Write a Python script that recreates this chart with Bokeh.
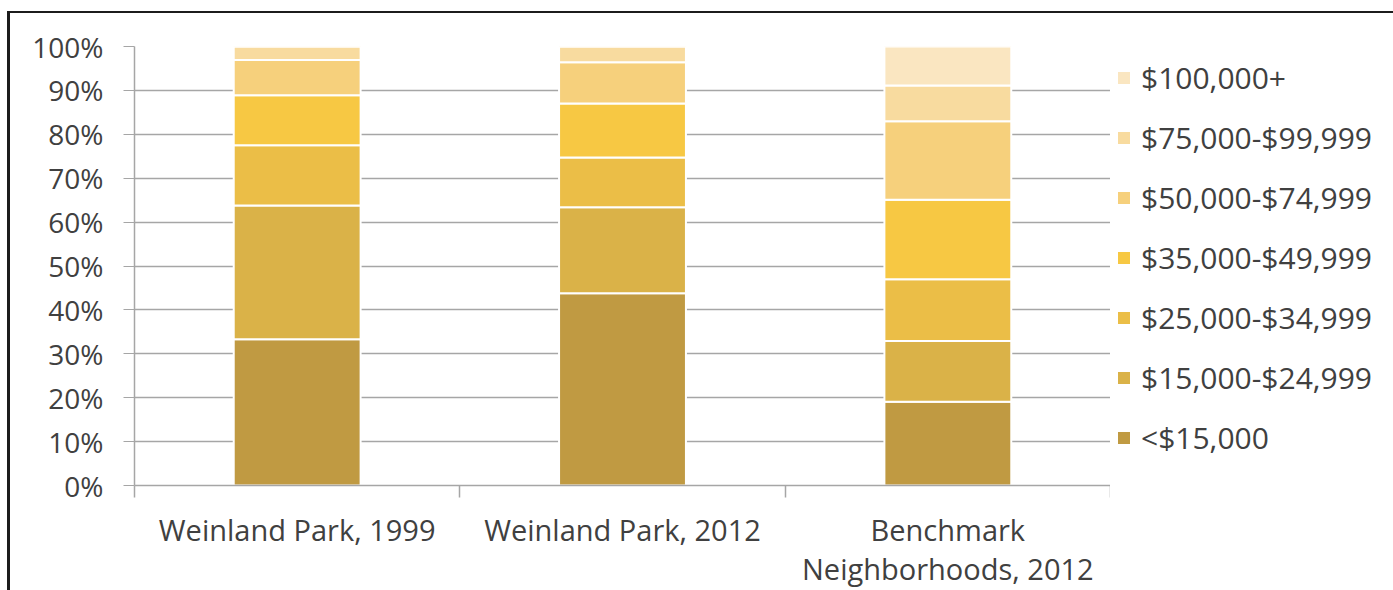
from bokeh.plotting import figure
from bokeh.layouts import row
from bokeh.models import (FixedTicker, Legend, LegendItem, PrintfTickFormatter,
                          Range1d, ColumnDataSource, LinearAxis)
from bokeh.embed import file_html
from bokeh.resources import INLINE

categories = ["Weinland Park, 1999", "Weinland Park, 2012", "Benchmark\nNeighborhoods, 2012"]
brackets = ["<$15,000", "$15,000-$24,999", "$25,000-$34,999", "$35,000-$49,999",
            "$50,000-$74,999", "$75,000-$99,999", "$100,000+"]
under_15k = [33.3, 43.8, 19.1]
k15_25 = [30.5, 19.6, 13.8]
k25_35 = [13.7, 11.3, 14.1]
k35_50 = [11.4, 12.3, 18.1]
k50_75 = [8.0, 9.4, 17.9]
k75_100 = [3.1, 3.6, 8.1]
k100_plus = [0.0, 0.0, 8.9]
y_ticks = [0, 10, 20, 30, 40, 50, 60, 70, 80, 90, 100]

colors = ["#C09A42", "#DAB248", "#EBBE47", "#F7C843", "#F6D07C", "#F8DB9F", "#FAE6C1"]
series = [under_15k, k15_25, k25_35, k35_50, k50_75, k75_100, k100_plus]
keys = ["s%d" % i for i in range(len(series))]

xpos = [i + 0.5 for i in range(len(categories))]
data = {"x": xpos}
for k, s in zip(keys, series):
    data[k] = s
source = ColumnDataSource(data)

first_lines = [c.split("\n")[0] for c in categories]
second_lines = {x: c.split("\n")[1] for x, c in zip(xpos, categories) if "\n" in c}

FONT = "Open Sans"
TXT = "#404040"
GRID = "#A6A6A6"

p = figure(width=1100, height=577, output_backend="svg", toolbar_location=None,
           x_range=Range1d(0, len(categories)), y_range=Range1d(0, 100),
           min_border_left=124, min_border_right=0, min_border_top=33,
           min_border_bottom=102)
p.outline_line_color = None
p.background_fill_color = "white"
p.border_fill_color = "white"

rs = p.vbar_stack(keys, x="x", width=0.39, source=source, color=colors,
                  line_color="white", line_width=2)

# Y axis
p.yaxis.ticker = FixedTicker(ticks=y_ticks)
p.yaxis.formatter = PrintfTickFormatter(format="%d%%")
p.yaxis.axis_line_color = GRID
p.yaxis.axis_line_width = 1.5
p.yaxis.major_tick_line_color = GRID
p.yaxis.major_tick_out = 11
p.yaxis.major_tick_in = 0
p.yaxis.minor_tick_line_color = None
p.yaxis.major_label_standoff = 20
p.yaxis.major_label_text_font = FONT
p.yaxis.major_label_text_font_size = "28px"
p.yaxis.major_label_text_color = TXT

# X axis (first label lines + boundary ticks)
p.xaxis.ticker = FixedTicker(ticks=xpos, minor_ticks=list(range(len(categories) + 1)))
p.xaxis.major_label_overrides = {x: c for x, c in zip(xpos, first_lines)}
p.xaxis.axis_line_color = GRID
p.xaxis.axis_line_width = 1.5
p.xaxis.major_tick_line_color = None
p.xaxis.minor_tick_line_color = GRID
p.xaxis.minor_tick_line_width = 1.5
p.xaxis.minor_tick_out = 12
p.xaxis.minor_tick_in = 0
p.xaxis.major_label_standoff = 12
p.xaxis.major_label_text_font = FONT
p.xaxis.major_label_text_font_size = "29px"
p.xaxis.major_label_text_line_height = 1.0
p.xaxis.major_label_text_color = TXT

# second line of multi-line category labels
ax2 = LinearAxis(ticker=FixedTicker(ticks=list(second_lines.keys())),
                 major_label_overrides=second_lines)
ax2.axis_line_color = None
ax2.major_tick_line_color = None
ax2.minor_tick_line_color = None
ax2.major_tick_out = 0
ax2.major_tick_in = 0
ax2.major_label_standoff = -3
ax2.major_label_text_font = FONT
ax2.major_label_text_font_size = "29px"
ax2.major_label_text_line_height = 1.0
ax2.major_label_text_color = TXT
p.add_layout(ax2, "below")

p.xgrid.grid_line_color = None
p.ygrid.ticker = FixedTicker(ticks=y_ticks)
p.ygrid.grid_line_color = GRID
p.ygrid.grid_line_width = 1.5

# Legend panel: a figure to the right of the chart whose ranges show no bars,
# so that only the legend is visible there.
pl = figure(width=283, height=577, output_backend="svg", toolbar_location=None,
            x_axis_type=None, y_axis_type=None,
            x_range=Range1d(-101, -100), y_range=Range1d(200, 300), min_border=0)
pl.outline_line_color = None
pl.grid.grid_line_color = None
pl.background_fill_color = "white"
pl.border_fill_color = "white"
swatches = pl.vbar_stack(keys, x="x", width=0.39, source=source, color=colors,
                         line_color=None)

items = [LegendItem(label=b, renderers=[r]) for b, r in zip(brackets, swatches)][::-1]
legend = Legend(items=items, location=(6, 27), orientation="vertical")
legend.border_line_color = None
legend.background_fill_alpha = 0
legend.margin = 0
legend.padding = 8
legend.glyph_width = 15
legend.glyph_height = 15
legend.label_standoff = 10
legend.spacing = 19
legend.label_text_font = FONT
legend.label_text_font_size = "30px"
legend.label_text_color = TXT
legend.label_height = 34
pl.add_layout(legend, "center")

layout = row(p, pl, spacing=0)
layout.styles = {"border-top": "2px solid #1c1c1c", "border-left": "3px solid #1c1c1c",
                 "margin-left": "7px", "margin-top": "11px"}

open("out.html", "w").write(file_html(layout, INLINE))
